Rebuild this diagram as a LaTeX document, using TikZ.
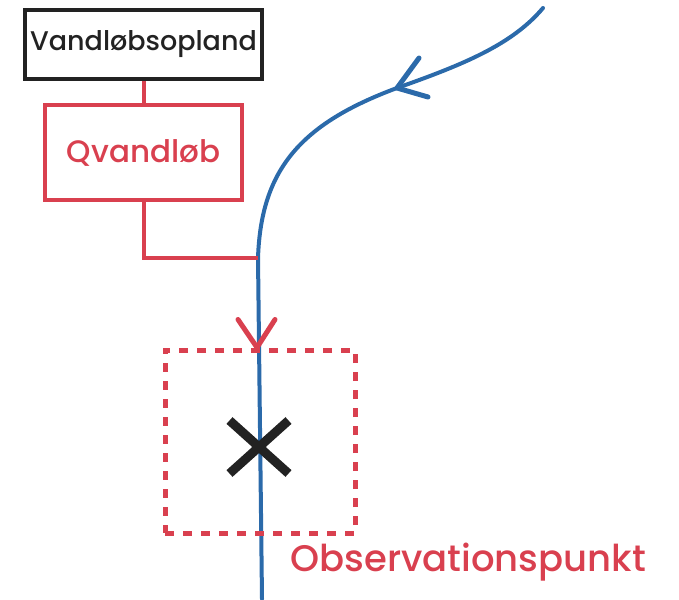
\documentclass[tikz,border=0pt]{standalone}
\usepackage{fontspec}
\setmainfont{Poppins}[BoldFont={Poppins Medium}]
\usepackage{tikz}
\usetikzlibrary{positioning,arrows.meta,shapes.misc,calc}
\definecolor{riverc}{HTML}{2B6AAA}
\definecolor{obsred}{HTML}{D9404F}
\definecolor{inkc}{HTML}{222222}
\tikzset{
  box/.style={draw, align=center, line width=4.5pt, inner sep=0pt},
  kbox/.style={box, draw=inkc, text=inkc, minimum width=237pt, minimum height=69pt,
               font=\fontsize{27}{30}\selectfont\bfseries},
  rbox/.style={box, draw=obsred, text=obsred, minimum width=197pt, minimum height=95pt,
               font=\fontsize{31}{34}\selectfont\bfseries},
  link/.style={draw=obsred, line width=4pt},
  river/.style={draw=riverc, line width=4pt, line cap=round},
  obsbox/.style={draw=obsred, line width=5pt, dash pattern=on 9pt off 9pt,
                 minimum width=190pt, minimum height=183pt},
  crossmark/.style={cross out, draw=inkc, line width=9pt, minimum width=50pt,
                    minimum height=44pt},
  lbl/.style={text=obsred, font=\fontsize{37}{40}\selectfont\bfseries},
}
\begin{document}
\begin{tikzpicture}[x=1pt, y=-1pt]
  \useasboundingbox (0,0) rectangle (679,599);

  % boxes
  \node[kbox] (opland) at (143.5,44.5) {Vandløbsopland};
  \node[rbox] (qvand) at (143.5,152.5) {Qvandløb};
  \draw[link] (opland.south) -- (qvand.north);

  % river
  \coordinate (src) at (543,8);
  \coordinate (flow) at (397,88);
  \coordinate (join) at (258,258);
  \coordinate (mouth) at (262,599);
  \draw[river] (src) .. controls (512,45) and (462,65) .. (flow)
               .. controls (300,124) and (261,170) .. (join) -- (mouth);
  \draw[river, line width=5pt] (flow) -- ++(22,-30) (flow) -- ++(31,9);
  \draw[link] (qvand.south) |- (join);

  % observation point
  \node[obsbox] (obs) at (260,441.5) {};
  \node[crossmark] (punkt) at (259,447) {};
  \draw[link, line width=5pt, line cap=round, line join=round]
    ($(obs.north)+(-22,-28)$) -- ($(obs.north)+(-3,0)$) -- ($(obs.north)+(15,-28)$);
  \node[lbl, anchor=west] (obslbl) at (287,562) {Observationspunkt};
\end{tikzpicture}
\end{document}
